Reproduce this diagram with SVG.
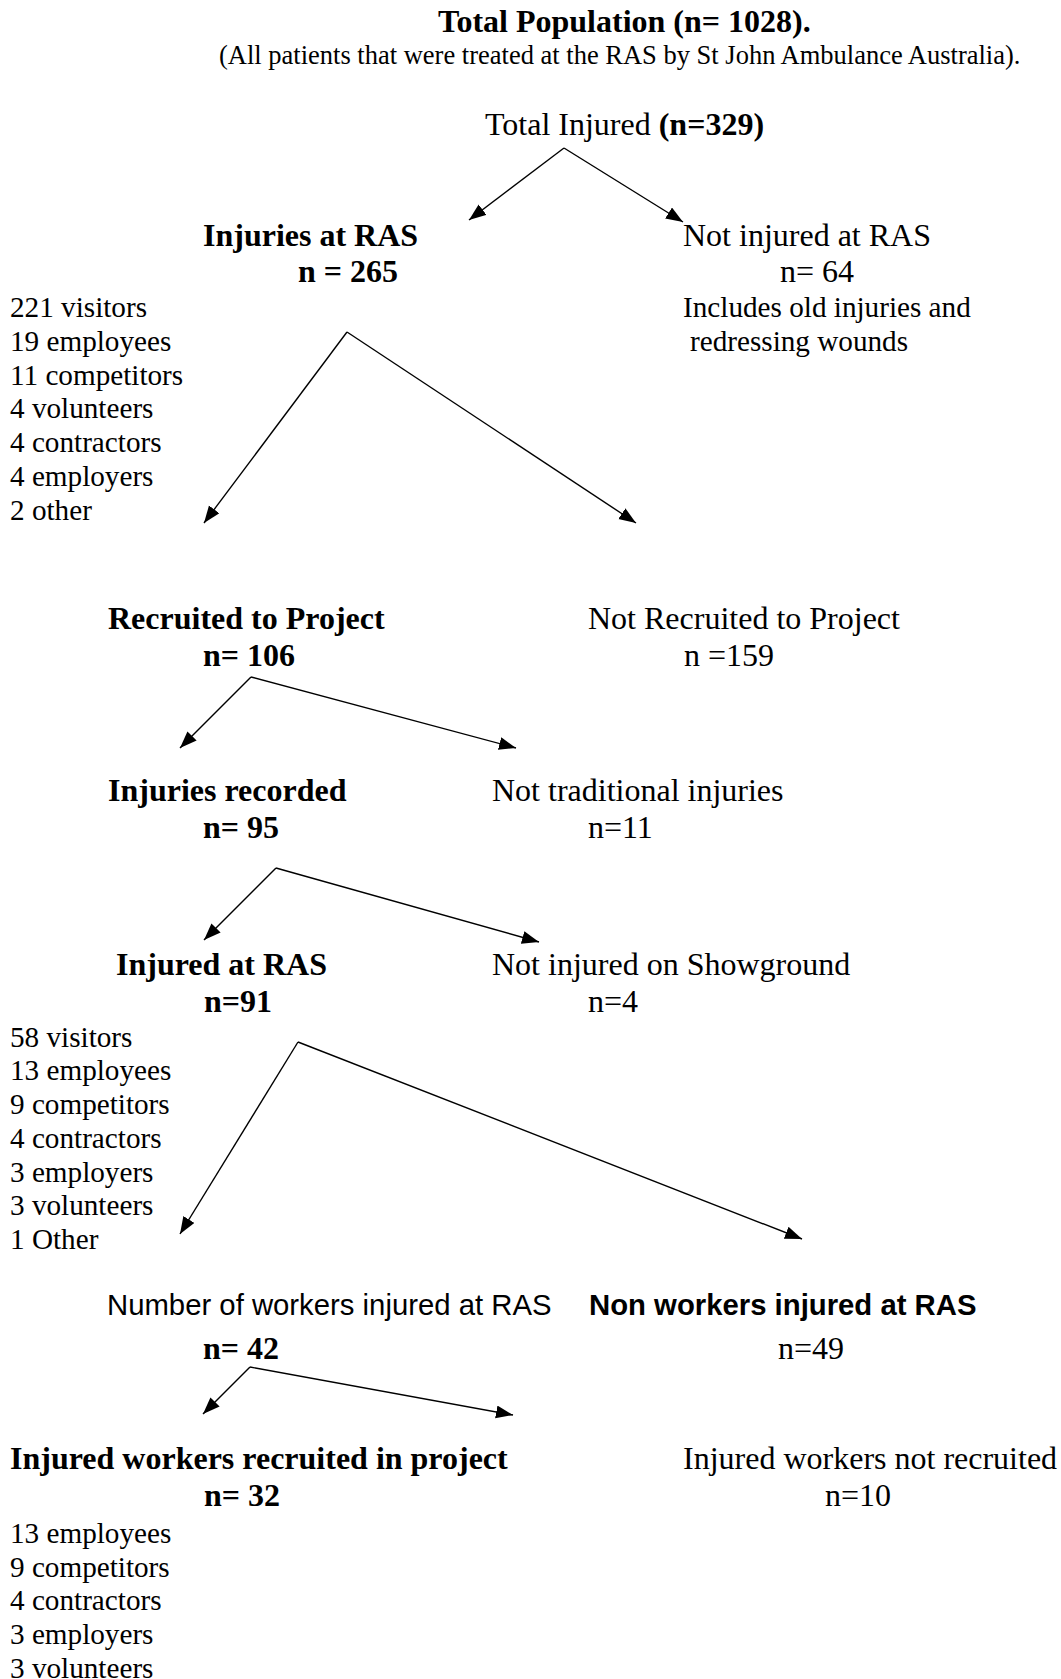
<svg xmlns="http://www.w3.org/2000/svg" width="1061" height="1679" viewBox="0 0 1061 1679">
<style>
  text { font-family: "Liberation Serif", "Times New Roman", serif; fill: #000; }
  .h { font-size: 32px; }
  .b { font-weight: bold; }
  .l { font-size: 29.2px; }
  .sub { font-size: 26.5px; }
  .ar { font-family: "Liberation Sans", Arial, sans-serif; font-size: 29.3px; }
  .conn line { stroke: #000; stroke-width: 1.4; marker-end: url(#ah); }
</style>
<defs>
  <marker id="ah" markerUnits="userSpaceOnUse" markerWidth="18" markerHeight="14" refX="17" refY="6.5" orient="auto">
    <path d="M0,0 L17,6.5 L0,13 z" fill="#000"/>
  </marker>
</defs>
<rect width="1061" height="1679" fill="#fff"/>

<g id="title">
  <text class="h b" x="438" y="32">Total Population (n= 1028).</text>
  <text class="sub" x="219" y="64">(All patients that were treated at the RAS by St John Ambulance Australia).</text>
</g>

<g id="total-injured">
  <text class="h" x="485" y="135">Total Injured <tspan class="b">(n=329)</tspan></text>
</g>

<g id="injuries-at-ras">
  <text class="h b" x="203" y="246">Injuries at RAS</text>
  <text class="h b" x="298" y="282">n = 265</text>
  <g class="l">
    <text x="10" y="317.3">221 visitors</text>
    <text x="10" y="351">19 employees</text>
    <text x="10" y="384.7">11 competitors</text>
    <text x="10" y="418.4">4 volunteers</text>
    <text x="10" y="452.1">4 contractors</text>
    <text x="10" y="485.8">4 employers</text>
    <text x="10" y="519.5">2 other</text>
  </g>
</g>

<g id="not-injured-at-ras">
  <text class="h" x="683" y="246">Not injured at RAS</text>
  <text class="h" x="780" y="282">n= 64</text>
  <text class="l" x="683" y="317.3">Includes old injuries and</text>
  <text class="l" x="690" y="351">redressing wounds</text>
</g>

<g id="recruited">
  <text class="h b" x="108" y="629">Recruited to Project</text>
  <text class="h b" x="203" y="666">n= 106</text>
</g>

<g id="not-recruited">
  <text class="h" x="588" y="629">Not Recruited to Project</text>
  <text class="h" x="684" y="666">n =159</text>
</g>

<g id="injuries-recorded">
  <text class="h b" x="108" y="801">Injuries recorded</text>
  <text class="h b" x="203" y="838">n= 95</text>
</g>

<g id="not-traditional">
  <text class="h" x="492" y="801">Not traditional injuries</text>
  <text class="h" x="588" y="838">n=11</text>
</g>

<g id="injured-at-ras">
  <text class="h b" x="116" y="975">Injured at RAS</text>
  <text class="h b" x="204" y="1012">n=91</text>
  <g class="l">
    <text x="10" y="1046.7">58 visitors</text>
    <text x="10" y="1080.4">13 employees</text>
    <text x="10" y="1114.1">9 competitors</text>
    <text x="10" y="1147.8">4 contractors</text>
    <text x="10" y="1181.5">3 employers</text>
    <text x="10" y="1215.2">3 volunteers</text>
    <text x="10" y="1248.9">1 Other</text>
  </g>
</g>

<g id="not-on-showground">
  <text class="h" x="492" y="975">Not injured on Showground</text>
  <text class="h" x="588" y="1012">n=4</text>
</g>

<g id="workers">
  <text class="ar" x="107" y="1315">Number of workers injured at RAS</text>
  <text class="h b" x="203" y="1359">n= 42</text>
</g>

<g id="non-workers">
  <text class="ar b" x="589" y="1315">Non workers injured at RAS</text>
  <text class="h" x="778" y="1359">n=49</text>
</g>

<g id="workers-recruited">
  <text class="h b" x="10" y="1469">Injured workers recruited in project</text>
  <text class="h b" x="204" y="1506">n= 32</text>
  <g class="l">
    <text x="10" y="1543">13 employees</text>
    <text x="10" y="1576.7">9 competitors</text>
    <text x="10" y="1610.4">4 contractors</text>
    <text x="10" y="1644.1">3 employers</text>
    <text x="10" y="1677.5">3 volunteers</text>
  </g>
</g>

<g id="workers-not-recruited">
  <text class="h" x="683" y="1469">Injured workers not recruited</text>
  <text class="h" x="825" y="1506">n=10</text>
</g>

<g id="connectors" class="conn">
  <line x1="564" y1="148" x2="469" y2="220"/>
  <line x1="564" y1="148" x2="683" y2="222"/>
  <line x1="347" y1="332" x2="204" y2="523"/>
  <line x1="347" y1="332" x2="636" y2="523"/>
  <line x1="251" y1="677" x2="180" y2="748"/>
  <line x1="251" y1="677" x2="516" y2="748"/>
  <line x1="276" y1="868" x2="204" y2="940"/>
  <line x1="276" y1="868" x2="539" y2="942"/>
  <line x1="298" y1="1042" x2="180" y2="1234"/>
  <line x1="298" y1="1042" x2="802" y2="1239"/>
  <line x1="250" y1="1367" x2="203" y2="1414"/>
  <line x1="250" y1="1367" x2="513" y2="1415"/>
</g>
</svg>
